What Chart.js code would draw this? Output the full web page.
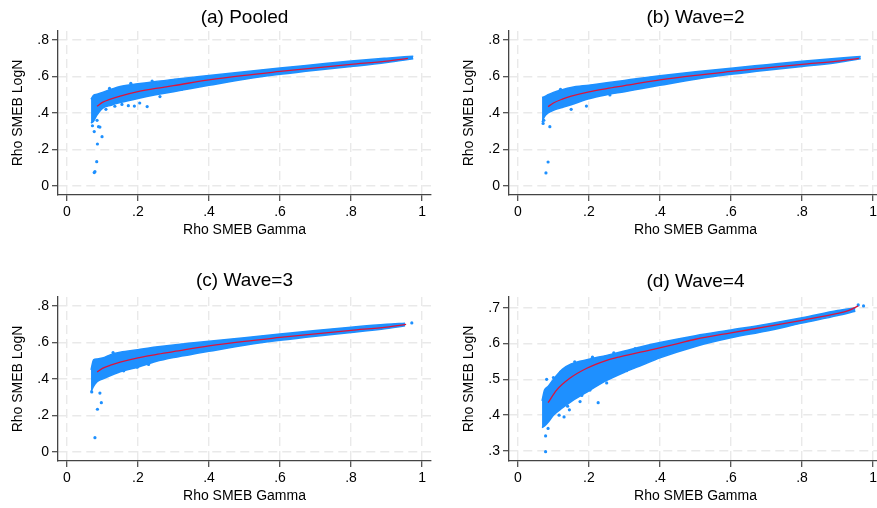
<!DOCTYPE html>
<html>
<head>
<meta charset="utf-8">
<script src="https://cdn.jsdelivr.net/npm/chart.js@4.4.1/dist/chart.umd.min.js"></script>
<style>
  html, body { margin: 0; padding: 0; background: #fff; overflow: hidden; width: 877px; height: 508px; }
  canvas { position: absolute; }
</style>
</head>
<body>
<canvas id="panelA" width="440" height="254" style="left:0;top:0"></canvas>
<canvas id="panelB" width="440" height="254" style="left:451px;top:0"></canvas>
<canvas id="panelC" width="440" height="254" style="left:0;top:266px"></canvas>
<canvas id="panelD" width="440" height="254" style="left:451px;top:266px"></canvas>
<script>
// tick labels
const xTicks = [0, 0.2, 0.4, 0.6, 0.8, 1];
const xTickLabels = ["0", ".2", ".4", ".6", ".8", "1"];
const yTicksABC = [0, 0.2, 0.4, 0.6, 0.8];
const yTickLabelsABC = ["0", ".2", ".4", ".6", ".8"];
const yTicksD = [0.3, 0.4, 0.5, 0.6, 0.7];
const yTickLabelsD = [".3", ".4", ".5", ".6", ".7"];

// (a) Pooled - dense cloud envelope (upper / lower edge), fitted line, stray points
const aEnvX = [0.068, 0.075, 0.085, 0.1, 0.125, 0.15, 0.2, 0.25, 0.3, 0.35, 0.4, 0.5, 0.6, 0.7, 0.8, 0.9, 0.975];
const aUpper = [0.475, 0.497, 0.503, 0.513, 0.53, 0.545, 0.56, 0.573, 0.584, 0.595, 0.606, 0.627, 0.647, 0.666, 0.685, 0.701, 0.712];
const aLower = [0.345, 0.355, 0.39, 0.425, 0.443, 0.457, 0.48, 0.5, 0.517, 0.535, 0.552, 0.585, 0.612, 0.635, 0.655, 0.677, 0.698];
const aFitX = [0.085, 0.1, 0.125, 0.15, 0.2, 0.25, 0.3, 0.4, 0.5, 0.6, 0.7, 0.8, 0.9, 0.96];
const aFitY = [0.437, 0.458, 0.478, 0.493, 0.517, 0.535, 0.55, 0.582, 0.607, 0.628, 0.648, 0.667, 0.685, 0.7];
const aDotsX = [0.077, 0.079, 0.084, 0.086, 0.099, 0.077, 0.093, 0.089, 0.085, 0.072, 0.226, 0.19, 0.173, 0.155, 0.262, 0.323, 0.205, 0.135, 0.11, 0.12, 0.18, 0.24];
const aDotsY = [0.073, 0.078, 0.133, 0.23, 0.27, 0.298, 0.323, 0.325, 0.36, 0.33, 0.435, 0.438, 0.44, 0.447, 0.49, 0.53, 0.455, 0.437, 0.42, 0.535, 0.563, 0.575];

// (b) Wave=2
const bEnvX = [0.068, 0.075, 0.085, 0.1, 0.125, 0.15, 0.2, 0.25, 0.3, 0.35, 0.4, 0.5, 0.6, 0.7, 0.8, 0.9, 0.965];
const bUpper = [0.485, 0.49, 0.5, 0.513, 0.528, 0.54, 0.553, 0.566, 0.579, 0.592, 0.604, 0.626, 0.646, 0.665, 0.684, 0.7, 0.71];
const bLower = [0.35, 0.38, 0.4, 0.415, 0.43, 0.445, 0.478, 0.5, 0.517, 0.535, 0.552, 0.585, 0.612, 0.635, 0.655, 0.677, 0.698];
const bFitX = [0.085, 0.1, 0.125, 0.15, 0.2, 0.25, 0.3, 0.4, 0.5, 0.6, 0.7, 0.8, 0.9, 0.96];
const bFitY = [0.435, 0.455, 0.476, 0.492, 0.516, 0.534, 0.55, 0.582, 0.607, 0.628, 0.648, 0.667, 0.685, 0.7];
const bDotsX = [0.079, 0.085, 0.09, 0.193, 0.071, 0.259, 0.073, 0.12, 0.15];
const bDotsY = [0.071, 0.131, 0.325, 0.438, 0.343, 0.499, 0.36, 0.53, 0.42];

// (c) Wave=3
const cEnvX = [0.068, 0.075, 0.085, 0.1, 0.125, 0.15, 0.2, 0.25, 0.3, 0.35, 0.4, 0.5, 0.6, 0.7, 0.8, 0.9, 0.952];
const cUpper = [0.45, 0.505, 0.51, 0.515, 0.535, 0.547, 0.561, 0.575, 0.587, 0.597, 0.607, 0.627, 0.647, 0.666, 0.684, 0.7, 0.706];
const cLower = [0.33, 0.36, 0.385, 0.4, 0.42, 0.44, 0.465, 0.496, 0.518, 0.535, 0.552, 0.585, 0.612, 0.635, 0.655, 0.677, 0.692];
const cFitX = [0.085, 0.1, 0.125, 0.15, 0.2, 0.25, 0.3, 0.4, 0.5, 0.6, 0.7, 0.8, 0.9, 0.955];
const cFitY = [0.438, 0.458, 0.477, 0.492, 0.516, 0.534, 0.55, 0.582, 0.607, 0.628, 0.648, 0.667, 0.685, 0.7];
const cDotsX = [0.079, 0.086, 0.097, 0.093, 0.07, 0.198, 0.971, 0.16, 0.13, 0.23];
const cDotsY = [0.078, 0.234, 0.27, 0.323, 0.329, 0.465, 0.708, 0.445, 0.545, 0.48];

// (d) Wave=4
const dEnvX = [0.068, 0.075, 0.085, 0.1, 0.125, 0.15, 0.2, 0.25, 0.3, 0.35, 0.4, 0.5, 0.6, 0.7, 0.8, 0.9, 0.95];
const dUpper = [0.44, 0.47, 0.48, 0.5, 0.528, 0.543, 0.556, 0.567, 0.579, 0.592, 0.603, 0.622, 0.638, 0.654, 0.672, 0.692, 0.7];
const dLower = [0.365, 0.37, 0.38, 0.4, 0.42, 0.438, 0.468, 0.497, 0.52, 0.54, 0.56, 0.592, 0.616, 0.635, 0.657, 0.678, 0.69];
const dFitX = [0.085, 0.109, 0.146, 0.194, 0.25, 0.287, 0.381, 0.45, 0.5, 0.6, 0.7, 0.8, 0.9, 0.93, 0.958];
const dFitY = [0.435, 0.47, 0.503, 0.531, 0.553, 0.563, 0.584, 0.6, 0.612, 0.63, 0.647, 0.665, 0.684, 0.692, 0.705];
const dDotsX = [0.078, 0.078, 0.085, 0.116, 0.226, 0.175, 0.203, 0.306, 0.081, 0.958, 0.973, 0.916, 0.13, 0.145, 0.25, 0.1, 0.12, 0.16, 0.21, 0.27, 0.33, 0.18, 0.14];
const dDotsY = [0.298, 0.342, 0.363, 0.4, 0.435, 0.438, 0.47, 0.524, 0.5, 0.708, 0.705, 0.692, 0.395, 0.415, 0.49, 0.505, 0.52, 0.549, 0.562, 0.574, 0.586, 0.455, 0.425];

const BLUE = "rgb(30,144,255)";
const RED = "#DC143C";
const FONT = '"Liberation Sans", Arial, Helvetica, sans-serif';

Chart.defaults.font.family = FONT;
Chart.defaults.color = "#000";

const pts = (xs, ys) => xs.map((x, i) => ({ x: x, y: ys[i] }));

const panelTitle = {
    id: "panelTitle",
    afterDraw(chart, args, opts) {
        const { ctx, chartArea } = chart;
        ctx.save();
        ctx.font = "19px " + FONT;
        ctx.fillStyle = "#000";
        ctx.textAlign = "center";
        ctx.textBaseline = "middle";
        ctx.fillText(opts.text, (chartArea.left + chartArea.right) / 2, chartArea.top - opts.offset);
        ctx.restore();
    }
};

function makePanel(id, title, offset, env, fit, dots, yr) {
    const ctx = document.getElementById(id).getContext("2d");
    return new Chart(ctx, {
        type: "line",
        data: {
            datasets: [
                // lower order is drawn on top
                { data: pts(fit.x, fit.y), order: 0, borderColor: RED, borderWidth: 1.3, pointRadius: 0,
                  fill: false, cubicInterpolationMode: "monotone" },
                { type: "scatter", order: 1, data: pts(dots.x, dots.y), backgroundColor: BLUE, borderWidth: 0, pointRadius: 1.6 },
                { data: pts(env.x, env.upper), order: 2, borderColor: BLUE, backgroundColor: BLUE, borderWidth: 1.5,
                  pointRadius: 0, fill: "+1", cubicInterpolationMode: "monotone" },
                { data: pts(env.x, env.lower), order: 3, borderColor: BLUE, borderWidth: 1.5,
                  pointRadius: 0, fill: false, cubicInterpolationMode: "monotone" }
            ]
        },
        options: {
            responsive: false,
            animation: false,
            events: [],
            layout: { padding: { top: 31, right: 9, left: 0, bottom: 0 } },
            plugins: {
                legend: { display: false },
                tooltip: { enabled: false },
                panelTitle: { text: title, offset: offset }
            },
            scales: {
                x: {
                    type: "linear", min: -0.025, max: 1.025,
                    afterBuildTicks: s => { s.ticks = xTicks.map(v => ({ value: v })); },
                    afterFit: s => { s.height = 59; },
                    ticks: { callback: v => xTickLabels[xTicks.indexOf(v)], font: { size: 14 }, padding: 3, maxRotation: 0, autoSkip: false },
                    grid: { color: "#e9e9e9", lineWidth: 1.4, tickColor: "#444", tickLength: 6, tickWidth: 1.2 },
                    border: { color: "#444", width: 1.3, dash: [9, 5] },
                    title: { display: true, text: "Rho SMEB Gamma", font: { size: 14 }, padding: { top: 0, bottom: 15.6 } }
                },
                y: {
                    type: "linear", min: yr.min, max: yr.max,
                    afterBuildTicks: s => { s.ticks = yr.ticks.map(v => ({ value: v })); },
                    afterFit: s => { s.width = 58; },
                    ticks: { callback: v => yr.labels[yr.ticks.indexOf(v)], font: { size: 14 }, padding: 3, autoSkip: false },
                    grid: { color: "#e9e9e9", lineWidth: 1.4, tickColor: "#444", tickLength: 6, tickWidth: 1.2 },
                    border: { color: "#444", width: 1.3, dash: [9, 5] },
                    title: { display: true, text: "Rho SMEB LogN", font: { size: 14 }, padding: { top: 9.6, bottom: 0 } }
                }
            }
        },
        plugins: [panelTitle]
    });
}

document.addEventListener("DOMContentLoaded", function () {
    const yABC = { min: -0.05, max: 0.85, ticks: yTicksABC, labels: yTickLabelsABC };
    const yD = { min: 0.272, max: 0.73, ticks: yTicksD, labels: yTickLabelsD };

    makePanel("panelA", "(a) Pooled", 13.5,
        { x: aEnvX, upper: aUpper, lower: aLower }, { x: aFitX, y: aFitY }, { x: aDotsX, y: aDotsY }, yABC);
    makePanel("panelB", "(b) Wave=2", 13.5,
        { x: bEnvX, upper: bUpper, lower: bLower }, { x: bFitX, y: bFitY }, { x: bDotsX, y: bDotsY }, yABC);
    makePanel("panelC", "(c) Wave=3", 16,
        { x: cEnvX, upper: cUpper, lower: cLower }, { x: cFitX, y: cFitY }, { x: cDotsX, y: cDotsY }, yABC);
    makePanel("panelD", "(d) Wave=4", 15.5,
        { x: dEnvX, upper: dUpper, lower: dLower }, { x: dFitX, y: dFitY }, { x: dDotsX, y: dDotsY }, yD);
});
</script>
</body>
</html>
